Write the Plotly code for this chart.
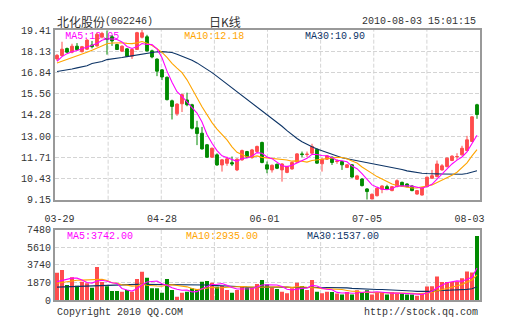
import plotly.graph_objects as go

# ---- daily bars (03-29 .. 08-03), one entry per trading session ----
opens = [17.66, 17.86, 18.29, 18.07, 18.43, 18.10, 18.25, 18.50, 18.45, 18.98,
         18.90, 19.00, 18.53, 18.13, 18.27, 17.83, 18.23, 18.97, 19.00, 18.15,
         17.65, 17.00, 16.55, 15.13, 14.35, 14.95, 15.18, 14.89, 13.50, 13.17,
         12.47, 11.72, 11.86, 11.25, 11.35, 11.39, 10.95, 11.56, 12.06, 11.70,
         12.06, 12.61, 11.26, 10.95, 11.29, 10.95, 10.80, 11.01, 11.42, 11.92,
         11.88, 11.96, 12.20, 11.32, 11.60, 11.72, 11.46, 11.46, 11.10, 11.26,
         10.39, 10.40, 9.80, 9.19, 9.39, 9.78, 9.94, 9.70, 9.94, 10.20,
         10.10, 9.98, 9.49, 9.43, 9.94, 10.45, 10.55, 10.95, 11.15, 11.52,
         11.74, 11.86, 12.12, 12.67, 14.89]
highs = [17.95, 18.70, 18.35, 18.58, 18.62, 18.45, 18.85, 18.75, 19.25, 19.30,
         19.38, 19.10, 18.58, 18.48, 18.32, 18.28, 19.30, 19.41, 19.12, 18.22,
         17.70, 17.05, 16.60, 15.20, 14.98, 15.55, 15.62, 14.95, 13.92, 13.55,
         12.52, 12.30, 11.95, 11.60, 11.75, 11.76, 11.65, 12.18, 12.10, 12.22,
         12.42, 12.66, 11.46, 11.28, 11.34, 11.36, 11.20, 11.45, 11.97, 12.06,
         12.06, 12.53, 12.25, 11.65, 11.85, 11.76, 11.60, 11.50, 11.30, 11.30,
         10.65, 10.45, 9.85, 9.52, 9.88, 10.02, 10.05, 9.98, 10.38, 10.24,
         10.14, 10.04, 9.74, 9.92, 10.55, 10.95, 11.52, 11.30, 11.72, 11.84,
         11.96, 12.41, 13.01, 14.20, 14.95]
lows = [17.55, 17.80, 18.02, 18.00, 18.15, 18.05, 18.20, 18.30, 18.40, 18.90,
        17.92, 18.45, 18.20, 18.10, 17.78, 17.66, 18.20, 18.90, 18.10, 17.70,
        16.62, 16.38, 15.15, 14.00, 14.22, 14.45, 14.80, 13.40, 12.45, 12.18,
        11.68, 11.68, 11.20, 10.85, 11.20, 11.19, 10.88, 11.50, 11.68, 11.62,
        12.00, 11.35, 10.75, 10.79, 11.00, 10.24, 10.75, 10.96, 11.38, 11.72,
        11.72, 11.92, 11.32, 10.85, 11.55, 11.25, 11.32, 10.95, 11.06, 10.48,
        10.35, 9.95, 9.15, 9.16, 9.35, 9.54, 9.76, 9.66, 9.90, 9.94,
        9.90, 9.66, 9.45, 9.40, 9.90, 10.40, 10.50, 10.90, 11.10, 11.48,
        11.56, 11.82, 12.08, 12.63, 14.04]
closes = [17.88, 18.25, 18.07, 18.43, 18.22, 18.40, 18.80, 18.40, 19.15, 19.20,
          18.85, 18.75, 18.23, 18.43, 17.82, 18.23, 19.25, 19.24, 18.15, 17.78,
          16.92, 16.57, 15.20, 14.79, 14.93, 15.50, 14.89, 13.47, 13.15, 12.22,
          11.72, 12.26, 11.25, 11.56, 11.62, 11.31, 11.60, 12.12, 11.72, 12.16,
          12.37, 11.40, 11.00, 11.23, 11.05, 11.31, 11.15, 11.40, 11.92, 11.88,
          11.90, 12.37, 11.36, 11.60, 11.80, 11.40, 11.48, 11.26, 11.26, 10.52,
          10.59, 10.00, 9.64, 9.48, 9.84, 9.98, 9.80, 9.94, 10.30, 9.98,
          9.94, 9.70, 9.70, 9.88, 10.51, 10.60, 11.31, 11.20, 11.66, 11.78,
          11.76, 12.26, 12.77, 14.16, 14.30]
volumes = [3197, 3508, 1755, 2651, 1677, 2145, 1950, 1444, 3859, 2100,
           1600, 1050, 1050, 975, 1170, 975, 2456, 3314, 2612, 1365,
           1365, 859, 2456, 1171, 392, 859, 976, 1365, 1288, 2145,
           2223, 2028, 1560, 1638, 1171, 859, 1171, 1638, 1444, 1444,
           1872, 2340, 1800, 1444, 1288, 976, 781, 1365, 2028, 1638,
           1171, 2340, 976, 781, 976, 943, 755, 642, 943, 642,
           1132, 943, 1132, 642, 943, 830, 642, 943, 755, 755,
           642, 642, 494, 755, 1585, 1600, 2750, 2100, 2090, 2100,
           2150, 2550, 3330, 3200, 7480]

# moving-average values before each window is complete (sessions prior to 03-29)
ma5_head = [17.52, 17.80, 17.98, 18.10]
ma10_head = [17.42, 17.52, 17.62, 17.72, 17.82, 17.94, 18.06, 18.19, 18.33]
ma30_head = [16.90, 16.94, 16.98, 17.05, 17.12, 17.18, 17.25, 17.38, 17.44, 17.50,
             17.62, 17.65, 17.68, 17.75, 17.80, 17.85, 17.90, 17.97, 18.02, 18.06,
             18.09, 18.10, 18.08, 18.05, 17.95, 17.84, 17.72, 17.58, 17.42]
vol_ma5_head = [2150, 2300, 2450, 2560]
vol_ma10_head = [1950, 2050, 2150, 2250, 2300, 2320, 2330, 2340, 2380]
vol_ma30_head = [1500, 1520, 1560, 1580, 1620, 1650, 1680, 1710, 1740, 1760,
                 1780, 1800, 1810, 1820, 1830, 1830, 1830, 1830, 1830, 1825,
                 1820, 1815, 1810, 1805, 1800, 1800, 1795, 1795, 1792]

date_ticks = ["03-29", "04-28", "06-01", "07-05", "08-03"]
price_ticks = [9.15, 10.43, 11.71, 13.00, 14.28, 15.56, 16.84, 18.13, 19.41]
volume_ticks = [0, 1870, 3740, 5610, 7480]

stock_name = "北化股份"
stock_code = "(002246)"
chart_kind = "日K线"
timestamp = "2010-08-03 15:01:15"

RED = "#ff4d4d"
GREEN = "#008a00"
MAGENTA = "#ff00ff"
ORANGE = "#ffa500"
NAVY = "#0d3466"
GRID = "#d4d4d4"
FRAME = "#999999"
TEXT = "#333333"
MONO = "Liberation Mono, DejaVu Sans Mono, monospace"
CJK = "Noto Sans CJK SC, sans-serif"
DASH = "4px,2px"


def moving_average(values, n, head):
    out = list(head)
    for i in range(n - 1, len(values)):
        out.append(sum(values[i - n + 1:i + 1]) / n)
    return out


ma5 = moving_average(closes, 5, ma5_head)
ma10 = moving_average(closes, 10, ma10_head)
ma30 = moving_average(closes, 30, ma30_head)
vma5 = moving_average(volumes, 5, vol_ma5_head)
vma10 = moving_average(volumes, 10, vol_ma10_head)
vma30 = moving_average(volumes, 30, vol_ma30_head)

n = len(closes)
xs = list(range(n))
x_range = [-0.4, n - 0.4]
bar_colors = [RED if c >= o else GREEN for o, c in zip(opens, closes)]

# the volume panel keeps ~10% headroom above the tallest bar
vol_headroom = 1.1
vol_top = max(volumes) * vol_headroom

# panel geometry (fractions of the plotting area)
main_dom = [0.3715, 1.0]
vol_dom = [0.0, 0.2607]

# left edges of the three MA readouts, as fractions of the panel width
readout_x = [0.024, 0.304, 0.588]

fig = go.Figure()

# legend-style readouts sit underneath the candles
fig.add_trace(go.Scatter(
    x=readout_x, y=[0.962] * 3, mode="text",
    text=[f"MA5:{ma5[-1]:.2f}", f"MA10:{ma10[-1]:.2f}", f"MA30:{ma30[-1]:.2f}"],
    textposition="middle right",
    textfont=dict(family=MONO, size=10, color=[MAGENTA, ORANGE, NAVY]),
    xaxis="x3", yaxis="y3", hoverinfo="skip", cliponaxis=False,
))

fig.add_trace(go.Candlestick(
    x=xs, open=opens, high=highs, low=lows, close=closes,
    increasing=dict(line=dict(color=RED, width=1), fillcolor=RED),
    decreasing=dict(line=dict(color=GREEN, width=1), fillcolor=GREEN),
    whiskerwidth=0, xaxis="x", yaxis="y", hoverinfo="skip",
))
for series, color in ((ma30, NAVY), (ma10, ORANGE), (ma5, MAGENTA)):
    fig.add_trace(go.Scatter(x=xs, y=series, mode="lines",
                             line=dict(color=color, width=1.1),
                             xaxis="x", yaxis="y", hoverinfo="skip"))

fig.add_trace(go.Bar(x=xs, y=volumes, marker=dict(color=bar_colors, line=dict(width=0)),
                     xaxis="x2", yaxis="y2", hoverinfo="skip"))
for series, color in ((vma30, NAVY), (vma10, ORANGE), (vma5, MAGENTA)):
    fig.add_trace(go.Scatter(x=xs, y=series, mode="lines",
                             line=dict(color=color, width=1.1),
                             xaxis="x2", yaxis="y2", hoverinfo="skip"))

tick_font = dict(family=MONO, size=10, color=TEXT)
frame = dict(showline=True, mirror=True, linecolor=FRAME, linewidth=2,
             zeroline=False, ticks="", fixedrange=True)

fig.update_layout(
    width=505, height=330,
    margin=dict(l=55, r=25, t=30, b=30),
    paper_bgcolor="white", plot_bgcolor="white",
    showlegend=False, bargap=0.2, boxgap=0.2,
    xaxis3=dict(domain=[0, 1], range=[0, 1], visible=False, anchor="y3", fixedrange=True),
    yaxis3=dict(domain=main_dom, range=[0, 1], visible=False, anchor="x3", fixedrange=True),
    xaxis=dict(overlaying="x3", anchor="y", range=x_range,
               tickmode="array",
               tickvals=[0.5 + k * (n - 3) / (len(date_ticks) - 1) for k in range(len(date_ticks))],
               ticktext=date_ticks, tickfont=tick_font, showgrid=False,
               ticklabelstandoff=8, rangeslider=dict(visible=False), **frame),
    yaxis=dict(overlaying="y3", anchor="x", range=[price_ticks[0], price_ticks[-1]],
               tickmode="array", tickvals=price_ticks,
               ticktext=[f"{v:.2f}" for v in price_ticks], tickfont=tick_font,
               showgrid=True, gridcolor=GRID, gridwidth=1, griddash=DASH, **frame),
    xaxis2=dict(domain=[0, 1], anchor="y2", range=x_range, showticklabels=False,
                showgrid=False, **frame),
    yaxis2=dict(domain=vol_dom, anchor="x2", range=[0, vol_top],
                tickmode="array", tickvals=[t * vol_headroom for t in volume_ticks],
                ticktext=[str(t) for t in volume_ticks], tickfont=tick_font,
                showgrid=True, gridcolor=GRID, gridwidth=1, griddash=DASH, **frame),
)

# vertical dashed grid: eight equal columns in both panels
shapes = []
for k in range(1, 8):
    for xr, yr in (("x domain", "y domain"), ("x2 domain", "y2 domain")):
        shapes.append(dict(type="line", xref=xr, yref=yr, x0=k / 8, x1=k / 8, y0=0, y1=1,
                           line=dict(color=GRID, width=1, dash=DASH), layer="below"))
fig.update_layout(shapes=shapes)

ann = []
ann.append(dict(text=stock_name, x=0, y=1.03, xanchor="left", yanchor="middle",
                font=dict(family=CJK, size=12, color=TEXT)))
ann.append(dict(text=stock_code, x=0.113, y=1.03, xanchor="left", yanchor="middle",
                font=dict(family=MONO, size=10, color=TEXT)))
ann.append(dict(text=chart_kind, x=0.4, y=1.03, xanchor="center", yanchor="middle",
                font=dict(family=CJK, size=12, color=TEXT)))
ann.append(dict(text=timestamp, x=0.996, y=1.03, xanchor="right", yanchor="middle",
                font=dict(family=MONO, size=10, color=TEXT)))
for label, value, color, xpos in (("MA5", vma5[-1], MAGENTA, readout_x[0]),
                                   ("MA10", vma10[-1], ORANGE, readout_x[1]),
                                   ("MA30", vma30[-1], NAVY, readout_x[2])):
    ann.append(dict(text=f"{label}:{value:.2f}", x=xpos, y=0.237, xanchor="left",
                    yanchor="middle", font=dict(family=MONO, size=10, color=color)))
ann.append(dict(text="Copyright 2010 QQ.COM", x=0, y=-0.045, xanchor="left",
                yanchor="middle", font=dict(family=MONO, size=10, color=TEXT)))
ann.append(dict(text="http://stock.qq.com", x=1.0, y=-0.045, xanchor="right",
                yanchor="middle", font=dict(family=MONO, size=10, color=TEXT)))
for a in ann:
    a.update(xref="paper", yref="paper", showarrow=False)
fig.update_layout(annotations=ann)

fig.write_html("out.html", config={"displayModeBar": False})
